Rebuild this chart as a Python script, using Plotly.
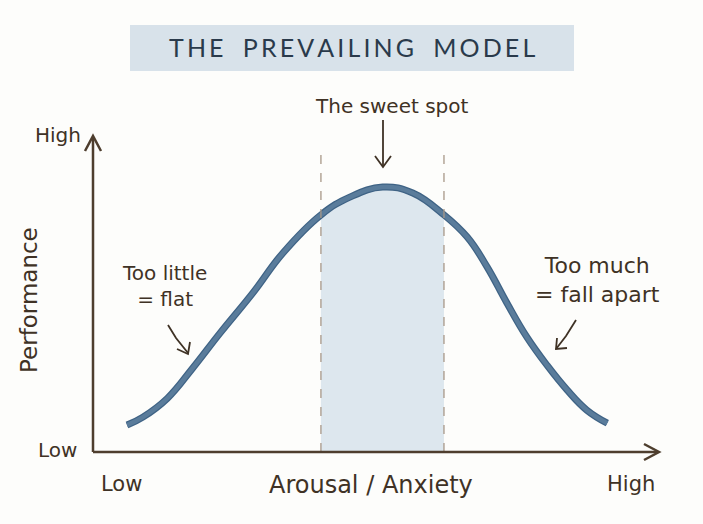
import plotly.graph_objects as go

# arousal (0-100) vs performance (0-100)
arousal = [6.0, 8.8, 13.1, 17.6, 22.4, 28.2, 33.5, 40.2, 45.3, 51.1, 56.4, 61.9,
           66.0, 69.5, 73.0, 76.5, 80.1, 83.6, 87.1, 90.7]
performance = [8.5, 11.0, 16.9, 26.5, 37.5, 50.2, 62.8, 74.8, 80.4, 83.6, 81.7, 74.8,
               67.8, 58.4, 47.0, 36.3, 27.3, 19.6, 13.2, 9.1]
sweet_lo, sweet_hi = 40.2, 61.9

title_text = "THE PREVAILING MODEL"
x_ticks = ["Low", "High"]
y_ticks = ["Low", "High"]

W, H = 703, 524
X0, Y0 = 93, 452          # pixel position of the origin
SX, SY = 5.67, 3.17       # pixels per unit


def p(px, py):
    # pixel -> data coords (layout helper only)
    return (px - X0) / SX, (Y0 - py) / SY


def path(*pts):
    s = ""
    for i, (a, b) in enumerate(pts):
        x, y = p(a, b)
        s += ("M" if i == 0 else "L") + f"{x:.3f},{y:.3f} "
    return s


ink = "#3f3225"
axis_col = "#4e3e2e"
curve_col = "#5a7c9b"
font = "DejaVu Sans"

fig = go.Figure()

shade_x = [x for x in arousal if sweet_lo <= x <= sweet_hi]
shade_y = [y for x, y in zip(arousal, performance) if sweet_lo <= x <= sweet_hi]
fig.add_trace(go.Scatter(x=shade_x, y=shade_y, mode="lines", line=dict(width=0, shape="spline"),
                         fill="tozeroy", fillcolor="rgba(204,219,231,0.65)", hoverinfo="skip"))
fig.add_trace(go.Scatter(x=arousal, y=performance, mode="lines",
                         line=dict(color="#3f6385", width=7, shape="spline", smoothing=1.2), hoverinfo="skip"))
fig.add_trace(go.Scatter(x=arousal, y=performance, mode="lines",
                         line=dict(color=curve_col, width=4.5, shape="spline", smoothing=1.2), hoverinfo="skip"))

shapes = []
# title banner
bx0, by0 = p(130, 25)
bx1, by1 = p(574, 71)
shapes.append(dict(type="rect", x0=bx0, y0=by0, x1=bx1, y1=by1, fillcolor="#d8e2ea",
                   line=dict(width=0), layer="below"))
# sweet spot dashed bounds
for xv in [sweet_lo, sweet_hi]:
    shapes.append(dict(type="line", x0=xv, x1=xv, y0=0, y1=p(0, 148)[1],
                       line=dict(color="#a89888", width=1.3, dash="dash")))
# axes
shapes.append(dict(type="path", path=path((93, 452), (93, 137)), line=dict(color=axis_col, width=2.5)))
shapes.append(dict(type="path", path=path((93, 452), (658, 452)), line=dict(color=axis_col, width=2.5)))
shapes.append(dict(type="path", path=path((85, 151), (93, 136), (101, 151)), line=dict(color=axis_col, width=2.5)))
shapes.append(dict(type="path", path=path((644, 444), (659, 452), (644, 460)), line=dict(color=axis_col, width=2.5)))
# pointer arrows
arrows = [
    [(383, 120), (383, 166)],
    [(375, 156), (383, 167), (391, 156)],
    [(168, 325), (176, 338), (188, 353)],
    [(177, 349), (188, 354), (190, 342)],
    [(576, 320), (566, 336), (556, 349)],
    [(557, 338), (556, 349), (567, 348)],
]
for a in arrows:
    shapes.append(dict(type="path", path=path(*a), line=dict(color=ink, width=1.8)))

annotations = []


def text(px, py, t, size=19, color=ink, angle=0, family=font, **kw):
    x, y = p(px, py)
    annotations.append(dict(x=x, y=y, text=t, showarrow=False, textangle=angle,
                            font=dict(family=family, size=size, color=color), **kw))


text(352, 47, "\u2009".join(title_text).replace("\u2009 \u2009", "   "), size=25,
     color="#2a3a4b", family="Lato")
text(391, 106, "The sweet spot", size=20)
text(164, 286, "Too little<br>= flat", size=20, align="center")
text(597, 280, "Too much<br>= fall apart", size=22, align="center")
text(58, 135, y_ticks[1], size=20)
text(57, 450, y_ticks[0], size=20)
text(121, 484, x_ticks[0], size=21)
text(631, 484, x_ticks[1], size=21)
text(371, 485, "Arousal / Anxiety", size=24)
text(29, 300, "Performance", size=23, angle=-90)

xr = [p(0, 0)[0], p(W, 0)[0]]
yr = [p(0, H)[1], p(0, 0)[1]]
fig.update_layout(
    width=W, height=H,
    margin=dict(l=0, r=0, t=0, b=0),
    paper_bgcolor="#fdfdfb", plot_bgcolor="#fdfdfb",
    showlegend=False,
    xaxis=dict(range=xr, visible=False),
    yaxis=dict(range=yr, visible=False),
    shapes=shapes,
    annotations=annotations,
)

fig.write_html("out.html", config={"displayModeBar": False},
               post_script="document.body.style.margin='0';")
